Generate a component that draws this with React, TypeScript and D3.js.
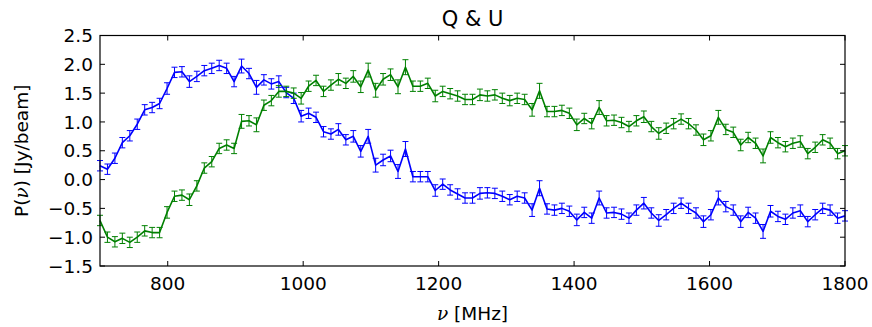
import React, { useEffect, useRef } from 'react';
import * as d3 from 'd3';

// channel frequencies (MHz)
const freqs = [
  700, 711, 722, 733, 744, 755, 766, 777, 788, 799,
  810, 821, 832, 843, 854, 865, 876, 887, 898, 909,
  920, 931, 942, 953, 964, 975, 986, 997, 1008, 1019,
  1030, 1041, 1052, 1063, 1074, 1085, 1096, 1107, 1118, 1129,
  1140, 1151, 1162, 1173, 1184, 1195, 1206, 1217, 1228, 1239,
  1250, 1261, 1272, 1283, 1294, 1305, 1316, 1327, 1338, 1349,
  1360, 1371, 1382, 1393, 1404, 1415, 1426, 1437, 1448, 1459,
  1470, 1481, 1492, 1503, 1514, 1525, 1536, 1547, 1558, 1569,
  1580, 1591, 1602, 1613, 1624, 1635, 1646, 1657, 1668, 1679,
  1690, 1701, 1712, 1723, 1734, 1745, 1756, 1767, 1778, 1789,
  1800,
];

// Q (blue)
const qVals = [
  0.24, 0.18, 0.37, 0.64, 0.76, 0.96, 1.21, 1.25, 1.32, 1.58,
  1.86, 1.87, 1.70, 1.79, 1.89, 1.93, 1.98, 1.93, 1.70, 1.97,
  1.84, 1.60, 1.73, 1.66, 1.70, 1.51, 1.41, 1.10, 1.15, 1.08,
  0.83, 0.79, 0.87, 0.69, 0.75, 0.49, 0.75, 0.25, 0.34, 0.41,
  0.14, 0.53, 0.05, 0.05, 0.05, -0.19, -0.08, -0.18, -0.25, -0.32,
  -0.32, -0.24, -0.23, -0.24, -0.29, -0.35, -0.29, -0.32, -0.53, -0.15,
  -0.51, -0.53, -0.50, -0.55, -0.70, -0.57, -0.67, -0.32, -0.58, -0.57,
  -0.60, -0.67, -0.53, -0.41, -0.58, -0.71, -0.61, -0.50, -0.41, -0.50,
  -0.58, -0.73, -0.61, -0.32, -0.47, -0.53, -0.73, -0.57, -0.67, -0.90,
  -0.55, -0.64, -0.69, -0.58, -0.54, -0.73, -0.61, -0.50, -0.53, -0.67,
  -0.63,
];

// U (green)
const uVals = [
  -0.71, -1.00, -1.08, -1.02, -1.09, -1.00, -0.89, -0.92, -0.92, -0.57,
  -0.29, -0.27, -0.35, -0.11, 0.20, 0.31, 0.54, 0.60, 0.54, 1.01,
  1.02, 0.95, 1.29, 1.37, 1.53, 1.53, 1.50, 1.41, 1.62, 1.72,
  1.53, 1.64, 1.74, 1.67, 1.79, 1.61, 1.90, 1.55, 1.74, 1.82,
  1.61, 1.95, 1.62, 1.62, 1.67, 1.45, 1.53, 1.49, 1.45, 1.39,
  1.39, 1.47, 1.45, 1.47, 1.41, 1.37, 1.41, 1.39, 1.21, 1.54,
  1.18, 1.18, 1.20, 1.15, 0.95, 1.06, 0.97, 1.25, 1.02, 1.03,
  0.99, 0.92, 1.02, 1.09, 0.92, 0.80, 0.89, 0.97, 1.05, 0.97,
  0.86, 0.69, 0.76, 1.08, 0.87, 0.82, 0.60, 0.73, 0.63, 0.41,
  0.73, 0.64, 0.57, 0.63, 0.66, 0.45, 0.56, 0.69, 0.63, 0.45,
  0.50,
];

// 1-sigma errors, shared by Q and U
const errs = [
  0.09, 0.09, 0.09, 0.09, 0.09, 0.09, 0.09, 0.09, 0.09, 0.10,
  0.09, 0.09, 0.10, 0.09, 0.09, 0.09, 0.09, 0.09, 0.09, 0.12,
  0.09, 0.12, 0.09, 0.09, 0.10, 0.09, 0.09, 0.10, 0.09, 0.09,
  0.09, 0.09, 0.10, 0.09, 0.10, 0.10, 0.12, 0.12, 0.10, 0.10,
  0.12, 0.13, 0.09, 0.09, 0.09, 0.10, 0.09, 0.09, 0.09, 0.09,
  0.09, 0.10, 0.09, 0.09, 0.09, 0.09, 0.09, 0.09, 0.11, 0.13,
  0.09, 0.09, 0.09, 0.09, 0.10, 0.09, 0.09, 0.12, 0.09, 0.09,
  0.09, 0.09, 0.09, 0.10, 0.09, 0.10, 0.09, 0.09, 0.09, 0.09,
  0.09, 0.10, 0.09, 0.12, 0.09, 0.09, 0.10, 0.09, 0.09, 0.12,
  0.10, 0.09, 0.09, 0.09, 0.10, 0.09, 0.09, 0.09, 0.09, 0.09,
  0.09,
];

const xTicks = [800, 1000, 1200, 1400, 1600, 1800];
const yTicks = [-1.5, -1.0, -0.5, 0.0, 0.5, 1.0, 1.5, 2.0, 2.5];

const series = [
  { name: 'Q', values: qVals, color: '#0000ff' },
  { name: 'U', values: uVals, color: '#008000' },
];

const App = () => {
  const svgRef = useRef<SVGSVGElement>(null);

  useEffect(() => {
    document.body.style.margin = '0';
    const width = 872;
    const height = 327;
    const m = { left: 100, right: 27, top: 35.5, bottom: 61 };
    const font = '"DejaVu Sans", sans-serif';

    const svg = d3.select(svgRef.current)
      .attr('width', width)
      .attr('height', height);
    svg.selectAll('*').remove();

    const x = d3.scaleLinear().domain([700, 1800]).range([m.left, width - m.right]);
    const y = d3.scaleLinear().domain([-1.5, 2.5]).range([height - m.bottom, m.top]);

    svg.append('rect').attr('width', width).attr('height', height).attr('fill', '#fff');

    const plot = svg.append('g');
    const line = d3.line<number>()
      .x((_, i) => x(freqs[i]))
      .y(d => y(d));

    series.forEach(s => {
      const g = plot.append('g');
      // error bars
      const eb = g.selectAll('g.eb')
        .data(s.values)
        .enter()
        .append('g')
        .attr('stroke', s.color)
        .attr('stroke-width', 1);
      eb.append('line')
        .attr('x1', (_, i) => x(freqs[i]))
        .attr('x2', (_, i) => x(freqs[i]))
        .attr('y1', (d, i) => y(d - errs[i]))
        .attr('y2', (d, i) => y(d + errs[i]));
      eb.append('line')
        .attr('x1', (_, i) => x(freqs[i]) - 3)
        .attr('x2', (_, i) => x(freqs[i]) + 3)
        .attr('y1', (d, i) => y(d - errs[i]))
        .attr('y2', (d, i) => y(d - errs[i]));
      eb.append('line')
        .attr('x1', (_, i) => x(freqs[i]) - 3)
        .attr('x2', (_, i) => x(freqs[i]) + 3)
        .attr('y1', (d, i) => y(d + errs[i]))
        .attr('y2', (d, i) => y(d + errs[i]));

      g.append('path')
        .datum(s.values)
        .attr('fill', 'none')
        .attr('stroke', s.color)
        .attr('stroke-width', 1.6)
        .attr('stroke-linejoin', 'round')
        .attr('d', line);
    });

    // ticks on all four sides, pointing inward
    const [x0, x1] = x.range();
    const [y0, y1] = y.range();
    const tk = svg.append('g').attr('stroke', '#000').attr('stroke-width', 1);
    xTicks.forEach(t => {
      tk.append('line').attr('x1', x(t)).attr('x2', x(t)).attr('y1', y0).attr('y2', y0 - 5);
      tk.append('line').attr('x1', x(t)).attr('x2', x(t)).attr('y1', y1).attr('y2', y1 + 5);
    });
    yTicks.forEach(t => {
      tk.append('line').attr('x1', x0).attr('x2', x0 + 5).attr('y1', y(t)).attr('y2', y(t));
      tk.append('line').attr('x1', x1).attr('x2', x1 - 5).attr('y1', y(t)).attr('y2', y(t));
    });

    svg.append('rect')
      .attr('x', x0).attr('y', y1)
      .attr('width', x1 - x0).attr('height', y0 - y1)
      .attr('fill', 'none').attr('stroke', '#000').attr('stroke-width', 1.2);

    // tick labels
    svg.append('g').selectAll('text')
      .data(xTicks)
      .enter()
      .append('text')
      .attr('x', d => x(d))
      .attr('y', y0 + 24)
      .attr('text-anchor', 'middle')
      .attr('font-family', font)
      .attr('font-size', 18.5)
      .text(d => d3.format('d')(d));

    svg.append('g').selectAll('text')
      .data(yTicks)
      .enter()
      .append('text')
      .attr('x', x0 - 7)
      .attr('y', d => y(d))
      .attr('dy', '0.36em')
      .attr('text-anchor', 'end')
      .attr('font-family', font)
      .attr('font-size', 18.5)
      .text(d => d3.format('.1f')(d).replace('-', '\u2212'));

    // title and axis labels
    svg.append('text')
      .attr('x', (x0 + x1) / 2)
      .attr('y', y1 - 10)
      .attr('text-anchor', 'middle')
      .attr('font-family', font)
      .attr('font-size', 21)
      .text('Q & U');

    const xl = svg.append('text')
      .attr('x', (x0 + x1) / 2)
      .attr('y', y0 + 54)
      .attr('text-anchor', 'middle')
      .attr('font-family', font)
      .attr('font-size', 18.5);
    xl.append('tspan').attr('font-style', 'italic').attr('font-family', '"DejaVu Serif", serif').text('\u03bd');
    xl.append('tspan').text(' [MHz]');

    const yl = svg.append('text')
      .attr('transform', `translate(28,${(y0 + y1) / 2}) rotate(-90)`)
      .attr('text-anchor', 'middle')
      .attr('font-family', font)
      .attr('font-size', 18.5);
    yl.append('tspan').text('P(');
    yl.append('tspan').attr('font-style', 'italic').attr('font-family', '"DejaVu Serif", serif').text('\u03bd');
    yl.append('tspan').text(') [Jy/beam]');
  }, []);

  return <svg ref={svgRef}></svg>;
};

export default App;
